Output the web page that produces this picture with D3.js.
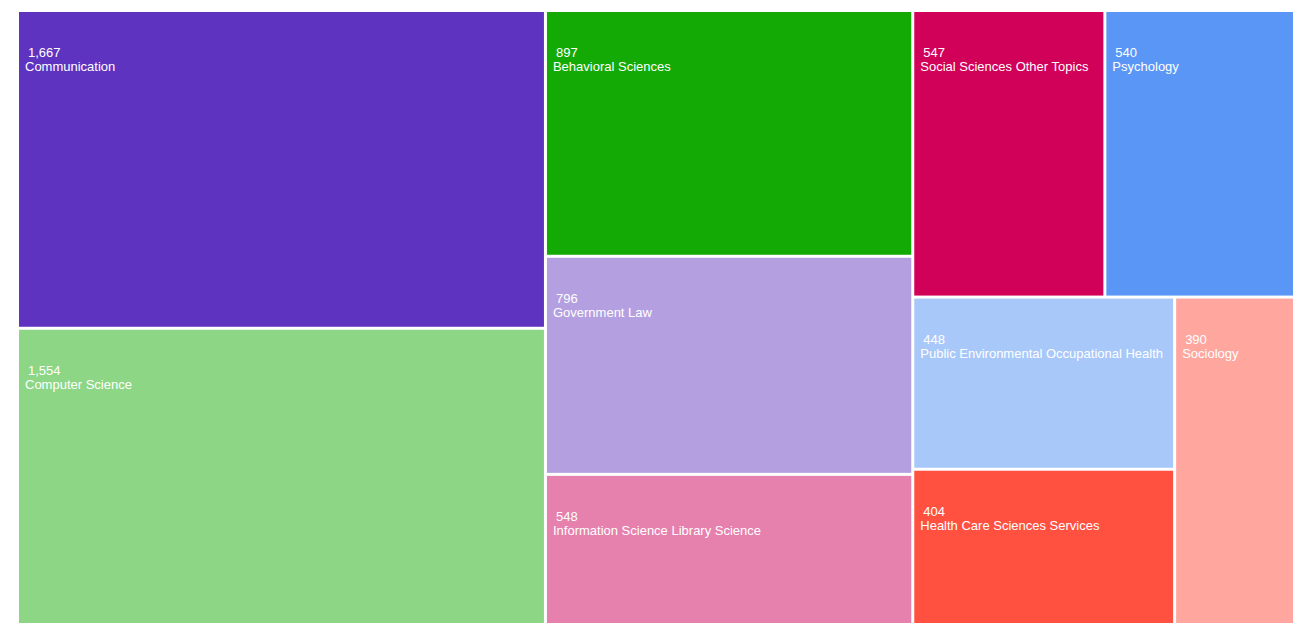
<!DOCTYPE html>
<html><head><meta charset="utf-8">
<script src="https://cdn.jsdelivr.net/npm/d3@7/dist/d3.min.js"></script>
<style>body{margin:0;background:#fff}text{font-family:"Liberation Sans",Arial,sans-serif;font-size:13px;fill:#fff}</style>
</head><body><svg id="c" width="1299" height="636"></svg>
<script>
const names = ["Communication","Computer Science","Behavioral Sciences","Government Law","Information Science Library Science","Social Sciences Other Topics","Psychology","Public Environmental Occupational Health","Health Care Sciences Services","Sociology"];
const values = [1667,1554,897,796,548,547,540,448,404,390];
const colors = ["#5e33bf","#8cd685","#13aa06","#b4a0e0","#e680ad","#d10058","#5a96f5","#a9c8fa","#ff5040","#ffa69e"];
const leaf = i => ({name:names[i], value:values[i], color:colors[i]});
const tree = {name:"root", children:[
  {dir:"v", children:[leaf(0),leaf(1)]},
  {dir:"v", children:[leaf(2),leaf(3),leaf(4)]},
  {dir:"v", children:[
    {dir:"h", children:[leaf(5),leaf(6)]},
    {dir:"h", children:[{dir:"v", children:[leaf(7),leaf(8)]}, leaf(9)]}
  ]}
]};
const root = d3.hierarchy(tree).sum(d=>d.value||0);
const tile = (node,x0,y0,x1,y1)=>{
  if(node.depth===0 || node.data.dir==="h") d3.treemapDice(node,x0,y0,x1,y1);
  else d3.treemapSlice(node,x0,y0,x1,y1);
};
d3.treemap().tile(tile).size([1274,611]).paddingInner(3).round(false)(root);
const svg = d3.select("#c").append("g").attr("transform","translate(19,12)");
const g = svg.selectAll("g").data(root.leaves()).join("g").attr("transform",d=>`translate(${d.x0},${d.y0})`);
g.append("rect").attr("width",d=>d.x1-d.x0).attr("height",d=>d.y1-d.y0).attr("fill",d=>d.data.color);
g.each(function(d){
  const s=d3.select(this), w=d.x1-d.x0;
  s.append("text").attr("x",9).attr("y",45).text(d3.format(",")(d.value));
  const t=s.append("text").attr("x",6).attr("y",59).text(d.data.name);
  if(t.node().getComputedTextLength()>w-12){
    t.remove();
    const words=d.data.name.split(" "), last=words.pop();
    s.append("text").attr("x",42).attr("y",52).text(words.join(" "));
    s.append("text").attr("x",6).attr("y",66).text(last);
  }
});
</script></body></html>
